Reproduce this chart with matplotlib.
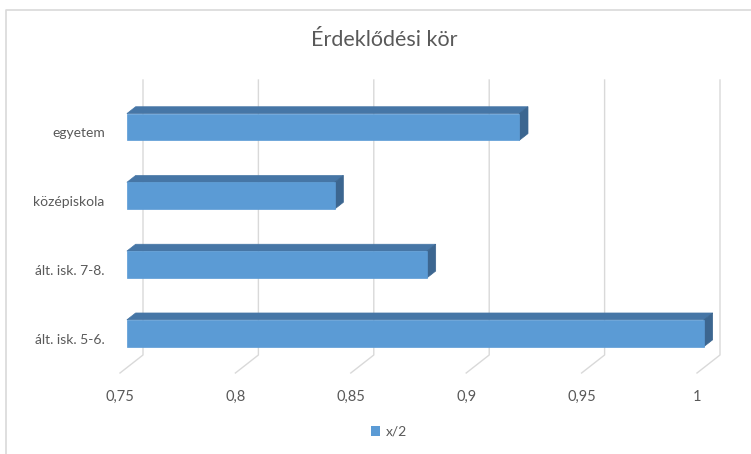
import numpy as np
import matplotlib
matplotlib.use('Agg')
import matplotlib.pyplot as plt
from matplotlib.patches import Polygon, Patch
from matplotlib.transforms import IdentityTransform
from matplotlib.lines import Line2D

# data
categories = ['ált. isk. 5-6.', 'ált. isk. 7-8.', 'középiskola', 'egyetem']
values = [1.0, 0.88, 0.84, 0.92]
ticks = [0.75, 0.8, 0.85, 0.9, 0.95, 1.0]
tick_labels = ['0,75', '0,8', '0,85', '0,9', '0,95', '1']
series_name = 'x/2'

front_col = '#5B9BD5'
top_col = '#4676A6'
side_col = '#3C6690'
grid_col = '#D9D9D9'
text_col = '#595959'

plt.rcParams['font.family'] = ['Lato', 'DejaVu Sans']

W, H = 751, 454
fig = plt.figure(figsize=(W / 100, H / 100), dpi=100)
# front plane of the 3d box: x 120..697 px, y 98..373 px (from top)
ax = fig.add_axes([120 / W, 1 - 373 / H, 577 / W, 275 / H])
ax.set_xlim(0.75, 1.0)
ax.set_ylim(-0.5, 3.5)
for s in ax.spines.values():
    s.set_visible(False)
ax.patch.set_alpha(0)

DEPTH = np.array([23.0, 18.0])  # pixel offset of the back wall
fig.canvas.draw()


def proj(x, y, z):
    p = ax.transData.transform((x, y))
    return p + z * DEPTH


ident = IdentityTransform()

# gridlines on back wall and floor
for v in ticks:
    pts = np.array([proj(v, 3.5, 1), proj(v, -0.5, 1), proj(v, -0.5, 0)])
    fig.add_artist(Line2D(pts[:, 0], pts[:, 1], transform=ident,
                          color=grid_col, lw=1.0, zorder=1))

# 3d bars
bh = 0.39
z0, z1 = 0.3, 0.68
for i, v in enumerate(values):
    x0 = 0.75
    yb, yt = i - bh / 2, i + bh / 2
    front = [proj(x0, yb, z0), proj(v, yb, z0), proj(v, yt, z0), proj(x0, yt, z0)]
    top = [proj(x0, yt, z0), proj(v, yt, z0), proj(v, yt, z1), proj(x0, yt, z1)]
    side = [proj(v, yb, z0), proj(v, yb, z1), proj(v, yt, z1), proj(v, yt, z0)]
    for poly, c in ((top, top_col), (side, side_col), (front, front_col)):
        fig.add_artist(Polygon(poly, closed=True, transform=ident,
                               facecolor=c, edgecolor=c, lw=0.5, zorder=3))

ax.set_xticks(ticks)
ax.set_xticklabels(tick_labels)
ax.set_yticks(range(len(categories)))
ax.set_yticklabels(categories)
ax.tick_params(axis='x', length=0, pad=12, labelsize=10.5, labelcolor=text_col)
ax.tick_params(axis='y', length=0, pad=11, labelsize=10, labelcolor=text_col)

fig.text(384 / W, 1 - 40 / H, 'Érdeklődési kör', ha='center', va='center',
         fontsize=15.5, color=text_col)

fig.legend(handles=[Patch(facecolor=front_col, edgecolor='none', label=series_name)],
           loc='center', bbox_to_anchor=(389 / W, 1 - 432 / H), frameon=False,
           fontsize=10, labelcolor=text_col, handlelength=0.7, handleheight=0.7,
           handletextpad=0.4)

# chart border (left and top edges visible)
fig.add_artist(Line2D([5.5 / W, 5.5 / W, 1], [0, 1 - 10 / H, 1 - 10 / H],
                      transform=fig.transFigure, color=grid_col, lw=1.2))

fig.savefig('out.png', dpi=100)
